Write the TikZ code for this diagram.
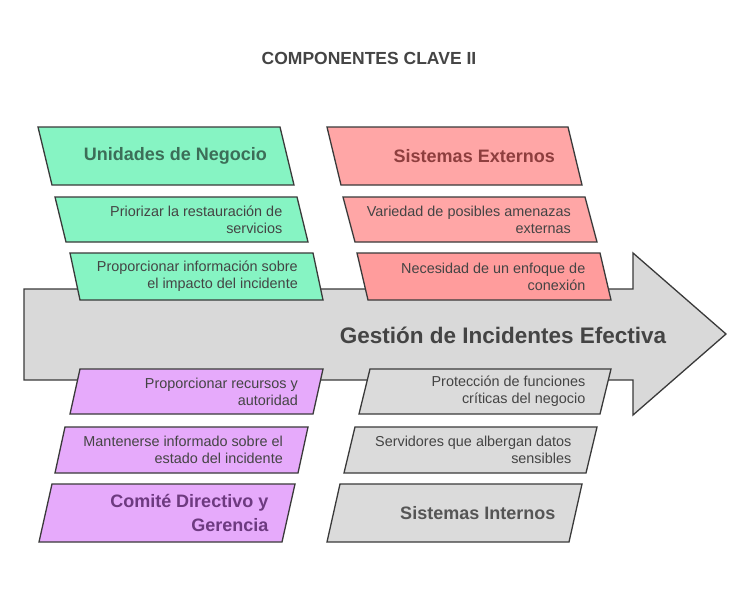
\documentclass[tikz,border=0pt]{standalone}
\usepackage{fontspec}
\setmainfont{Liberation Sans}
\definecolor{strokec}{HTML}{3A3A3A}
\definecolor{txt}{HTML}{444444}
\definecolor{greenf}{HTML}{86F4C3}
\definecolor{greent}{HTML}{3C6E58}
\definecolor{redf}{HTML}{FFA6A6}
\definecolor{redf2}{HTML}{FF9C9C}
\definecolor{redt}{HTML}{8E3E3E}
\definecolor{purf}{HTML}{E6AAFB}
\definecolor{purt}{HTML}{6D3A80}
\definecolor{grayf}{HTML}{DBDBDB}
\definecolor{grayt}{HTML}{555555}
\definecolor{arrowf}{HTML}{D9D9D9}
\tikzset{
  boxline/.style={draw=strokec, line width=1.3pt, line join=miter},
  bodytext/.style={text=txt, align=right, inner sep=0pt, font=\fontsize{14.4}{17}\selectfont},
  titletext/.style={align=right, inner sep=0pt, font=\fontsize{18}{24}\selectfont\bfseries},
}
% #1 name, #2 x, #3 y, #4 w, #5 h, #6 slant, #7 fill, #8 text style, #9 text
\newcommand\pbox[9]{%
  \draw[boxline, fill=#7] (#2,#3) -- ++(#4,0) -- ++(#6,#5) -- ++(-#4,0) -- cycle;
  \node[#8, anchor=east] (#1) at ({#2+#4+#6/2-20},{#3+#5/2}) {#9};
}
\begin{document}
\begin{tikzpicture}[x=1pt,y=-1pt]
\useasboundingbox[fill=white] (0,0) rectangle (750,589);
\node[text=txt, font=\fontsize{17.5}{20}\selectfont\bfseries] (title) at (369,58) {COMPONENTES CLAVE II};
% main arrow
\draw[boxline, fill=arrowf] (24,289) -- (633,289) -- (633,253) -- (726,334) -- (633,415) -- (633,380) -- (24,380) -- cycle;
\node[text=txt, inner sep=0pt, font=\fontsize{22.5}{26}\selectfont\bfseries] (goal) at (503,335) {Gestión de Incidentes Efectiva};
% green
\pbox{g1}{38}{127}{242}{58}{14}{greenf}{titletext,text=greent}{Unidades de Negocio}
\pbox{g2}{55}{197}{242}{45}{11}{greenf}{bodytext}{Priorizar la restauración de\\servicios}
\pbox{g3}{70}{253}{243}{47}{10}{greenf}{bodytext}{Proporcionar información sobre\\el impacto del incidente}
% red
\pbox{r1}{327}{127}{241}{58}{14}{redf}{titletext,text=redt}{Sistemas Externos}
\pbox{r2}{343}{197}{242}{45}{12}{redf}{bodytext}{Variedad de posibles amenazas\\externas}
\pbox{r3}{357}{253}{243}{47}{11}{redf2}{bodytext}{Necesidad de un enfoque de\\conexión}
% purple
\pbox{p1}{80}{369}{243}{45}{-10}{purf}{bodytext}{Proporcionar recursos y\\autoridad}
\pbox{p2}{65}{427}{243}{46}{-10}{purf}{bodytext}{Mantenerse informado sobre el\\estado del incidente}
\pbox{p3}{52}{484}{243}{58}{-13}{purf}{titletext,text=purt}{Comité Directivo y\\Gerencia}
% gray
\pbox{s1}{370}{369}{241}{45}{-11}{grayf}{bodytext}{Protección de funciones\\críticas del negocio}
\pbox{s2}{355}{427}{242}{46}{-11}{grayf}{bodytext}{Servidores que albergan datos\\sensibles}
\pbox{s3}{340}{484}{242}{58}{-13}{grayf}{titletext,text=grayt}{Sistemas Internos}
\end{tikzpicture}
\end{document}
